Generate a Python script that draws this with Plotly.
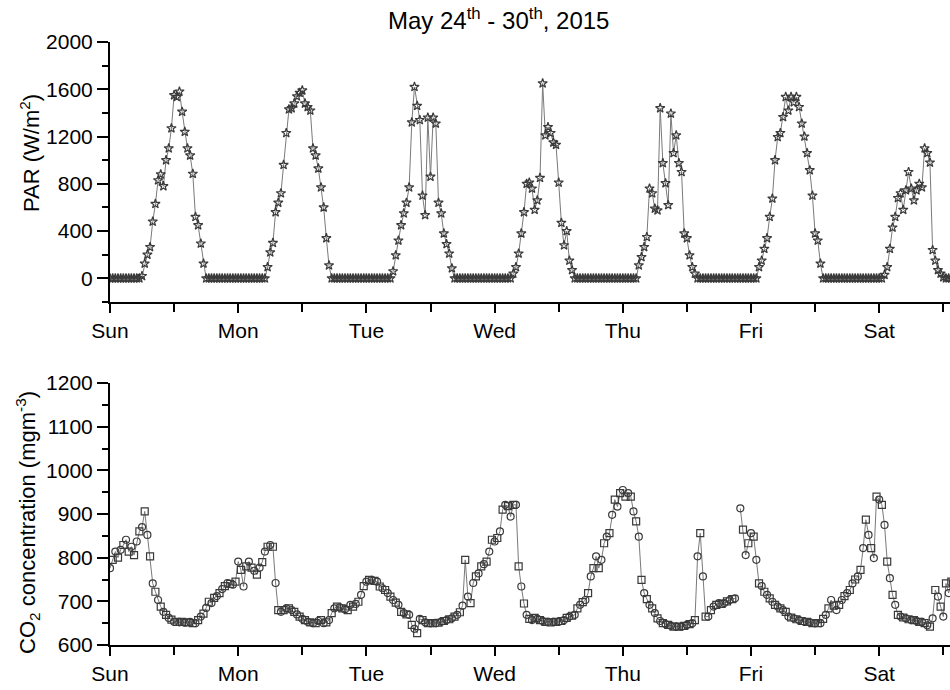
import plotly.graph_objects as go

# ---------------- data ----------------
days = ["Sun", "Mon", "Tue", "Wed", "Thu", "Fri", "Sat"]
samples_per_day = 48  # half-hourly readings

# PAR (W/m2), half-hourly, one list per day
par_sun = [0, 0, 0, 0, 0, 0, 0, 0, 0, 0, 0, 0,
           20, 125, 200, 265, 480, 630, 830, 880, 780, 1000, 1100, 1270,
           1550, 1535, 1580, 1410, 1240, 1100, 1040, 885, 520, 450, 295, 125,
           0, 0, 0, 0, 0, 0, 0, 0, 0, 0, 0, 0]
par_mon = [0, 0, 0, 0, 0, 0, 0, 0, 0, 0, 0, 95,
           220, 300, 560, 640, 720, 960, 1230, 1430, 1440, 1480, 1540, 1570,
           1590, 1480, 1450, 1420, 1100, 1040, 930, 770, 600, 340, 110, 0,
           0, 0, 0, 0, 0, 0, 0, 0, 0, 0, 0, 0]
par_tue = [0, 0, 0, 0, 0, 0, 0, 0, 0, 0, 60, 195,
           320, 450, 550, 640, 770, 1320, 1620, 1460, 1340, 700, 535, 1360,
           860, 1360, 1310, 640, 550, 380, 290, 210, 85, 0, 0, 0,
           0, 0, 0, 0, 0, 0, 0, 0, 0, 0, 0, 0]
par_wed = [0, 0, 0, 0, 0, 0, 0, 40, 95, 210, 380, 560,
           800, 810, 760, 580, 660, 850, 1650, 1210, 1280, 1230, 1150, 1130,
           810, 470, 280, 400, 150, 70, 0, 0, 0, 0, 0, 0,
           0, 0, 0, 0, 0, 0, 0, 0, 0, 0, 0, 0]
par_thu = [0, 0, 0, 0, 0, 0, 110, 180, 265, 350, 760, 720,
           590, 575, 1440, 975, 805, 620, 1395, 1060, 1210, 975, 900, 380,
           340, 195, 95, 40, 0, 0, 0, 0, 0, 0, 0, 0,
           0, 0, 0, 0, 0, 0, 0, 0, 0, 0, 0, 0]
par_fri = [0, 0, 0, 95, 150, 250, 340, 520, 675, 1000, 1195, 1230,
           1365, 1535, 1420, 1535, 1490, 1535, 1450, 1310, 1200, 1060, 915, 700,
           380, 320, 125, 0, 0, 0, 0, 0, 0, 0, 0, 0,
           0, 0, 0, 0, 0, 0, 0, 0, 0, 0, 0, 0]
par_sat = [0, 0, 30, 95, 250, 430, 520, 680, 720, 580, 745, 900,
           760, 660, 745, 800, 770, 1100, 1060, 980, 240, 150, 70, 40,
           10, 0, 0, 0]

# CO2 concentration (mg m-3), half-hourly, one list per day (None = missing)
co2_sun = [776, 795, 814, 800, 818, 829, 841, 814, 825, 806, 837, 860,
           870, 906, 852, 803, 741, 722, 703, 688, 676, 669, 662, 658,
           653, 653, 652, 653, 651, 652, 653, 650, 650, 657, 665, 672,
           685, 699, 696, 708, 712, 719, 728, 735, 742, 740, 738, 745]
co2_mon = [791, 772, 734, 780, 791, 777, 770, 761, 777, 790, 814, 825,
           829, 825, 742, 680, 676, 680, 684, 684, 680, 676, 670, 665,
           660, 657, 653, 652, 650, 650, 655, 657, 650, 652, 657, 673,
           684, 688, 686, 684, 682, 680, 692, 688, 694, 699, 715, 735]
co2_tue = [745, 749, 749, 747, 745, 734, 730, 726, 719, 711, 703, 697,
           692, 676, 673, 670, 669, 646, 637, 627, 660, 657, 652, 650,
           650, 650, 650, 651, 653, 655, 657, 659, 661, 665, 669, 675,
           690, 795, 711, 696, 742, 757, 764, 780, 785, 791, 814, 841]
co2_wed = [837, 845, 860, 910, 921, 918, 894, 921, 921, 780, 734, 695,
           669, 660, 657, 662, 660, 657, 655, 653, 653, 652, 653, 653,
           653, 655, 657, 662, 665, 667, 669, 684, 692, 698, 703, 719,
           757, 776, 803, 776, 795, 833, 848, 856, 898, 933, 917, 948]
co2_thu = [955, 940, 948, 940, 906, 883, 848, 749, 719, 705, 692, 684,
           673, 661, 655, 650, 648, 646, 644, 642, 642, 642, 642, 644,
           646, 648, 650, 657, 803, 856, 757, 665, 665, 680, 688, 692,
           696, 694, 696, 700, 703, 705, 707, None, 913, 864, 806, 833]
co2_fri = [856, 848, 795, 741, 735, 722, 715, 707, 699, 692, 688, 684,
           680, 676, 665, 663, 661, 659, 657, 655, 653, 653, 652, 650,
           650, 650, 650, 660, 669, 684, 703, 690, 680, 692, 703, 712,
           719, 726, 741, 750, 757, 772, 822, 887, 852, 822, 799, 940]
co2_sat = [933, 921, 875, 791, 753, 715, 692, 669, 665, 663, 661, 659,
           657, 657, 655, 653, 653, 650, 645, 642, 661, 726, 711, 688,
           665, 741, 719, 745]

par = par_sun + par_mon + par_tue + par_wed + par_thu + par_fri + par_sat
co2 = co2_sun + co2_mon + co2_tue + co2_wed + co2_thu + co2_fri + co2_sat
t_par = [i / samples_per_day for i in range(len(par))]
t_co2 = [i / samples_per_day for i in range(len(co2))]

# ---------------- figure ----------------
W, H = 950, 690
FONT = "Liberation Sans, Arial, sans-serif"


def fx(p):
    return p / W


def fy(p):
    return 1 - p / H


x_end = (W - 110) / 128.2  # visible span in days (plot cropped at right)
major = list(range(len(days)))
minor = [d + 0.5 for d in major]

fig = go.Figure()

fig.add_trace(go.Scatter(
    x=t_par, y=par, mode="lines+markers", xaxis="x", yaxis="y",
    line=dict(color="#7a7a7a", width=1),
    marker=dict(symbol="star-open", size=7, color="#3a3a3a",
                line=dict(width=1.2, color="#3a3a3a")),
    showlegend=False, cliponaxis=True))

co2_symbols = ["circle-open" if i % 2 == 0 else "square-open" for i in range(len(co2))]
fig.add_trace(go.Scatter(
    x=t_co2, y=co2, mode="lines+markers", xaxis="x2", yaxis="y2",
    line=dict(color="#7a7a7a", width=1),
    marker=dict(symbol=co2_symbols, size=7, color="#3a3a3a",
                line=dict(width=1.2, color="#3a3a3a")),
    showlegend=False, cliponaxis=True))

tickfont = dict(family=FONT, size=21, color="black")


def bottom_x(domain_anchor):
    return dict(
        domain=[fx(110), 1.0], range=[0, x_end], anchor=domain_anchor,
        automargin=False,
        tickmode="array", tickvals=major, ticktext=days,
        ticks="outside", ticklen=9, tickwidth=2, tickcolor="black",
        minor=dict(tickmode="array", tickvals=minor, ticks="outside",
                   ticklen=8, tickwidth=2, tickcolor="black", showgrid=False),
        showline=True, linewidth=2, linecolor="black",
        showgrid=False, zeroline=False, tickfont=tickfont, fixedrange=True)


def top_x(overlay, domain_anchor):
    return dict(
        overlaying=overlay, side="top", anchor=domain_anchor,
        domain=[fx(110), 1.0], range=[0, x_end], automargin=False,
        tickmode="array", tickvals=major, ticks="inside", ticklen=9,
        tickwidth=2, tickcolor="black", showticklabels=False,
        minor=dict(tickmode="array", tickvals=minor, ticks="inside",
                   ticklen=8, tickwidth=2, tickcolor="black", showgrid=False),
        showline=True, linewidth=2, linecolor="black",
        showgrid=False, zeroline=False)


def left_y(domain, rng, tick0, dtick, minor_dtick, anchor):
    return dict(
        domain=domain, range=rng, anchor=anchor, automargin=False,
        tickmode="linear", tick0=tick0, dtick=dtick,
        ticks="outside", ticklen=11, tickwidth=2, tickcolor="black",
        minor=dict(dtick=minor_dtick, ticks="outside", ticklen=6, tickwidth=2,
                   tickcolor="black", showgrid=False),
        showline=True, linewidth=2, linecolor="black",
        showgrid=False, zeroline=False, tickfont=tickfont, fixedrange=True)


fig.update_layout(
    width=W, height=H,
    margin=dict(l=0, r=0, t=0, b=0, autoexpand=False),
    paper_bgcolor="white", plot_bgcolor="white",
    font=dict(family=FONT, color="black"),
    xaxis=bottom_x("y"),
    xaxis3=top_x("x", "y"),
    xaxis2=bottom_x("y2"),
    xaxis4=top_x("x2", "y2"),
    yaxis=left_y([fy(302), fy(42)], [-200, 2000], 0, 400, 200, "x"),
    yaxis2=left_y([fy(645), fy(383)], [600, 1200], 600, 100, 50, "x2"),
    annotations=[
        dict(text="May 24<sup>th</sup> - 30<sup>th</sup>, 2015",
             x=fx(498), y=fy(19), xref="paper", yref="paper",
             showarrow=False, xanchor="center", yanchor="middle",
             font=dict(family=FONT, size=24, color="black")),
        dict(text="PAR (W/m<sup>2</sup>)", textangle=-90,
             x=fx(30), y=fy(153), xref="paper", yref="paper",
             showarrow=False, xanchor="center", yanchor="middle",
             font=dict(family=FONT, size=22, color="black")),
        dict(text="CO<sub>2</sub> concentration (mgm<sup>-3</sup>)", textangle=-90,
             x=fx(27), y=fy(523), xref="paper", yref="paper",
             showarrow=False, xanchor="center", yanchor="middle",
             font=dict(family=FONT, size=22, color="black")),
    ],
)

fig.write_html("out.html", config={"displayModeBar": False})
